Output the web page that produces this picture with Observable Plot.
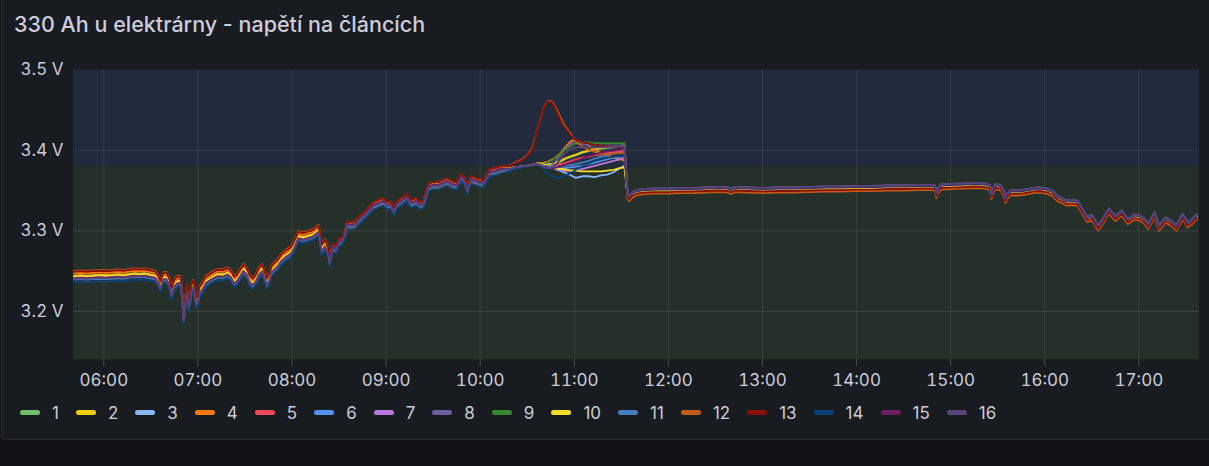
<!DOCTYPE html>
<html>
<head>
<meta charset="utf-8">
<script src="https://cdn.jsdelivr.net/npm/d3@7"></script>
<script src="https://cdn.jsdelivr.net/npm/@observablehq/plot@0.6"></script>
<style>
html, body { margin: 0; padding: 0; background: #111217; width: 1209px; height: 466px; overflow: hidden; }
#panel { position: absolute; left: 1px; top: -3px; width: 1212px; height: 443px; background: #181b1f; border: 1px solid #2a2d33; border-radius: 3px; box-sizing: border-box; }
#title { position: absolute; left: 14px; top: 13px; font-family: Inter, sans-serif; font-size: 21.5px; line-height: 22px; font-weight: 500; color: #ccccdc; white-space: nowrap; }
#chart { position: absolute; left: 0; top: 40px; }
#legend { position: absolute; left: 20px; top: 400px; height: 25px; display: flex; align-items: center; font-family: Inter, sans-serif; font-size: 17px; color: #ccccdc; }
.item { display: flex; align-items: center; margin-right: 17px; }
.sw { width: 20px; height: 5px; border-radius: 3px; margin-right: 12px; }
</style>
</head>
<body>
<div id="panel"></div>
<div id="title">330 Ah u elektrárny - napětí na článcích</div>
<div id="chart"></div>
<div id="legend"></div>
<script>
// ---- data ----
const cells = ["1","2","3","4","5","6","7","8","9","10","11","12","13","14","15","16"];
const colors = ["#73BF69","#F2CC0C","#8AB8FF","#FF780A","#F2495C","#5794F2","#B877D9","#705DA0","#37872D","#FADE2A","#447EBC","#C15C17","#890F02","#0A437C","#6D1F62","#584477"];

const xDomain = ["05:40:40", "17:38:40"];
const yDomain = [3.14, 3.5];
const hourTicks = ["06:00","07:00","08:00","09:00","10:00","11:00","12:00","13:00","14:00","15:00","16:00","17:00"];
const yTicks = [3.2, 3.3, 3.4, 3.5];
const thresholdLow = [3.14, 3.38];
const thresholdHigh = [3.38, 3.5];

// shared morning curve (bundle centre), V
const morningTimes = ["05:41","05:45","05:49","05:53","05:57","06:01","06:05","06:09","06:13","06:17","06:20","06:23","06:26","06:29","06:31","06:33","06:35","06:36","06:38","06:40","06:42","06:43","06:45","06:47","06:49","06:50","06:51","06:52","06:53","06:54","06:55","06:56","06:57","06:58","06:59","07:00","07:01","07:03","07:05","07:07","07:10","07:13","07:16","07:19","07:21","07:23","07:25","07:27","07:29","07:31","07:33","07:35","07:37","07:39","07:41","07:43","07:44","07:46","07:47","07:49","07:51","07:53","07:56","07:59","08:01","08:03","08:04","08:07","08:10","08:13","08:16","08:17","08:19","08:21","08:23","08:24","08:26","08:28","08:30","08:32","08:34","08:35","08:37","08:40","08:43","08:46","08:49","08:52","08:55","08:58","09:01","09:03","09:05","09:07","09:10","09:13","09:16","09:19","09:22","09:24","09:27","09:30","09:33","09:36","09:39","09:42","09:45","09:48","09:50","09:52","09:54","09:58","10:02","10:06","10:10","10:14"];
const morningBase = [3.2435,3.2441,3.2435,3.2441,3.2447,3.2441,3.2447,3.2453,3.2447,3.2460,3.2466,3.2460,3.2466,3.2453,3.2447,3.2435,3.2373,3.2311,3.2422,3.2422,3.2335,3.2224,3.2335,3.2373,3.2373,3.2186,3.1913,3.2137,3.2261,3.2075,3.2137,3.2286,3.2323,3.2224,3.2112,3.2137,3.2249,3.2298,3.2373,3.2398,3.2435,3.2460,3.2453,3.2478,3.2447,3.2373,3.2398,3.2460,3.2522,3.2485,3.2385,3.2348,3.2398,3.2485,3.2522,3.2410,3.2348,3.2435,3.2509,3.2547,3.2584,3.2646,3.2696,3.2733,3.2795,3.2882,3.2932,3.2913,3.2932,3.2950,3.2994,3.3006,3.2770,3.2832,3.2733,3.2609,3.2795,3.2770,3.2857,3.2882,3.2969,3.3081,3.3068,3.3081,3.3143,3.3193,3.3255,3.3317,3.3342,3.3367,3.3317,3.3329,3.3242,3.3329,3.3373,3.3422,3.3342,3.3367,3.3317,3.3342,3.3540,3.3571,3.3565,3.3590,3.3615,3.3578,3.3565,3.3671,3.3627,3.3503,3.3640,3.3615,3.3590,3.3727,3.3745,3.3770];
const lateStart = "08:24";

// per-cell offsets from the shared curve, V
const earlyOffset = [-0.001, 0.001, -0.002, 0.004, 0.000, -0.003, -0.002, -0.002, -0.001, 0.000, -0.004, 0.007, 0.006, -0.007, -0.002, -0.003];
const lateOffset = [0.000, 0.003, 0.001, -0.003, 0.001, -0.002, 0.000, -0.001, -0.002, 0.002, -0.002, 0.004, 0.004, -0.005, 0.001, -0.001];
const afternoonOffset = [0.001, -0.0005, 0.0015, -0.003, 0.000, 0.0015, 0.001, 0.002, 0.0015, -0.001, 0.001, -0.0045, -0.0025, 0.0005, 0.0015, 0.002];

// divergence around the top of charge, per cell, V
const peakTimes = ["10:18","10:22","10:26","10:30","10:33","10:35","10:37","10:39","10:41","10:43","10:45","10:47","10:49","10:51","10:53","10:55","10:58","11:01","11:05","11:09","11:13","11:17","11:21","11:25","11:29","11:32"];
const peak1 = [3.377,3.379,3.380,3.381,3.382,3.383,3.384,3.384,3.383,3.383,3.383,3.384,3.385,3.386,3.388,3.390,3.392,3.394,3.397,3.399,3.401,3.402,3.403,3.404,3.405,3.405];
const peak2 = [3.378,3.379,3.380,3.381,3.382,3.383,3.384,3.383,3.382,3.382,3.383,3.384,3.386,3.387,3.389,3.391,3.393,3.395,3.398,3.400,3.402,3.403,3.404,3.405,3.405,3.406];
const peak3 = [3.377,3.379,3.380,3.381,3.382,3.383,3.383,3.382,3.381,3.380,3.379,3.378,3.376,3.375,3.373,3.372,3.369,3.366,3.368,3.368,3.367,3.369,3.370,3.373,3.378,3.381];
const peak4 = [3.375,3.378,3.380,3.381,3.382,3.383,3.384,3.384,3.385,3.386,3.388,3.390,3.393,3.396,3.401,3.406,3.412,3.413,3.410,3.406,3.401,3.397,3.394,3.391,3.389,3.388];
const peak5 = [3.377,3.379,3.380,3.381,3.382,3.383,3.383,3.382,3.381,3.381,3.381,3.381,3.382,3.383,3.384,3.385,3.387,3.389,3.391,3.392,3.394,3.395,3.397,3.398,3.399,3.400];
const peak6 = [3.376,3.378,3.380,3.381,3.382,3.382,3.383,3.382,3.381,3.380,3.379,3.379,3.378,3.378,3.378,3.378,3.379,3.380,3.381,3.383,3.385,3.387,3.389,3.391,3.392,3.393];
const peak7 = [3.377,3.379,3.380,3.381,3.382,3.383,3.383,3.382,3.381,3.380,3.379,3.378,3.377,3.376,3.375,3.375,3.375,3.376,3.377,3.379,3.381,3.383,3.385,3.387,3.389,3.391];
const peak8 = [3.377,3.379,3.380,3.381,3.382,3.383,3.383,3.381,3.379,3.379,3.381,3.385,3.389,3.394,3.399,3.404,3.409,3.409,3.408,3.407,3.407,3.406,3.406,3.406,3.406,3.407];
const peak9 = [3.376,3.379,3.380,3.381,3.382,3.383,3.384,3.383,3.383,3.385,3.387,3.390,3.392,3.395,3.399,3.402,3.406,3.409,3.410,3.410,3.409,3.409,3.409,3.409,3.409,3.409];
const peak10 = [3.378,3.379,3.380,3.381,3.382,3.383,3.384,3.383,3.382,3.381,3.380,3.379,3.378,3.377,3.377,3.376,3.375,3.375,3.374,3.374,3.374,3.374,3.375,3.376,3.378,3.379];
const peak11 = [3.376,3.378,3.379,3.381,3.382,3.382,3.383,3.382,3.381,3.381,3.380,3.380,3.380,3.380,3.381,3.381,3.382,3.383,3.385,3.387,3.390,3.392,3.394,3.396,3.397,3.398];
const peak12 = [3.380,3.385,3.388,3.394,3.402,3.416,3.431,3.444,3.455,3.461,3.462,3.458,3.450,3.442,3.434,3.428,3.420,3.411,3.405,3.401,3.398,3.396,3.395,3.396,3.397,3.397];
const peak13 = [3.380,3.384,3.387,3.393,3.400,3.414,3.431,3.445,3.454,3.460,3.461,3.456,3.447,3.439,3.431,3.426,3.418,3.413,3.410,3.409,3.407,3.406,3.405,3.405,3.404,3.404];
const peak14 = [3.374,3.377,3.379,3.380,3.381,3.382,3.383,3.379,3.375,3.372,3.369,3.367,3.366,3.367,3.368,3.370,3.372,3.376,3.380,3.384,3.387,3.389,3.391,3.392,3.393,3.393];
const peak15 = [3.377,3.379,3.380,3.381,3.382,3.383,3.383,3.381,3.380,3.379,3.378,3.378,3.379,3.380,3.381,3.383,3.385,3.387,3.390,3.393,3.395,3.397,3.399,3.400,3.401,3.402];
const peak16 = [3.377,3.379,3.380,3.381,3.382,3.383,3.383,3.381,3.379,3.378,3.378,3.380,3.384,3.389,3.394,3.398,3.402,3.404,3.404,3.404,3.404,3.404,3.404,3.405,3.405,3.405];
const peaks = [peak1,peak2,peak3,peak4,peak5,peak6,peak7,peak8,peak9,peak10,peak11,peak12,peak13,peak14,peak15,peak16];

// shared afternoon curve, V
const afternoonTimes = ["11:34","11:35","11:37","11:40","11:45","11:52","12:00","12:08","12:16","12:24","12:32","12:38","12:40","12:42","12:50","13:00","13:10","13:20","13:30","13:40","13:50","14:00","14:10","14:20","14:30","14:40","14:48","14:50","14:51","14:52","14:54","15:00","15:08","15:16","15:22","15:25","15:26","15:27","15:29","15:32","15:34","15:35","15:36","15:38","15:43","15:48","15:53","15:57","16:01","16:05","16:08","16:11","16:14","16:18","16:21","16:24","16:27","16:30","16:34","16:37","16:41","16:45","16:49","16:53","16:57","17:00","17:03","17:06","17:10","17:13","17:17","17:20","17:24","17:28","17:31","17:34","17:37"];
const afternoonBase = [3.3441,3.3416,3.3460,3.3491,3.3503,3.3509,3.3509,3.3516,3.3516,3.3522,3.3528,3.3522,3.3503,3.3528,3.3522,3.3516,3.3522,3.3522,3.3528,3.3534,3.3534,3.3540,3.3540,3.3547,3.3547,3.3553,3.3553,3.3547,3.3453,3.3516,3.3559,3.3565,3.3571,3.3578,3.3571,3.3553,3.3441,3.3516,3.3565,3.3547,3.3466,3.3391,3.3441,3.3485,3.3485,3.3497,3.3516,3.3522,3.3509,3.3478,3.3416,3.3391,3.3360,3.3367,3.3354,3.3255,3.3155,3.3180,3.3050,3.3130,3.3261,3.3168,3.3236,3.3130,3.3186,3.3180,3.3143,3.3068,3.3211,3.3050,3.3149,3.3118,3.3050,3.3193,3.3087,3.3130,3.3193];

// ---- build ----
const toDate = s => { const [h, m, sec = 0] = s.split(":").map(Number); return new Date(Date.UTC(2024, 0, 1, h, m, sec)); };
const lateT = toDate(lateStart);
const rows = [];
cells.forEach((c, i) => {
  morningTimes.forEach((t, j) => {
    const d = toDate(t);
    rows.push({cell: c, t: d, v: morningBase[j] + (d < lateT ? earlyOffset[i] : lateOffset[i])});
  });
  peakTimes.forEach((t, j) => rows.push({cell: c, t: toDate(t), v: peaks[i][j]}));
  afternoonTimes.forEach((t, j) => rows.push({cell: c, t: toDate(t), v: afternoonBase[j] + afternoonOffset[i]}));
});
const xd = xDomain.map(toDate);
const bands = thresholdLow.map((lo, i) => ({lo, hi: thresholdHigh[i]}));
const ticksX = hourTicks.map(toDate);

const chart = Plot.plot({
  width: 1209,
  height: 360,
  marginTop: 29.5,
  marginBottom: 40.7,
  marginLeft: 73,
  marginRight: 10,
  style: {background: "transparent", color: "#ccccdc", fontFamily: "Inter, sans-serif", fontSize: "17px", overflow: "visible"},
  x: {type: "utc", domain: xd, label: null},
  y: {domain: yDomain, label: null},
  color: {domain: cells, range: colors},
  marks: [
    Plot.rect([bands[0]], {x1: () => xd[0], x2: () => xd[1], y1: "lo", y2: "hi", fill: "#26302b"}),
    Plot.rect([bands[1]], {x1: () => xd[0], x2: () => xd[1], y1: "lo", y2: "hi", fill: "#222b3d"}),
    Plot.gridX(ticksX, {stroke: "#ccccdc", strokeOpacity: 0.1, strokeWidth: 1}),
    Plot.gridY(yTicks.slice(0, 3), {stroke: "#ccccdc", strokeOpacity: 0.1, strokeWidth: 1}),
    Plot.axisX(ticksX, {tickFormat: d3.utcFormat("%H:%M"), tickSize: 6.5, tickPadding: 8, stroke: "#4a4d55", fill: "#ccccdc", fontSize: 17, label: null}),
    Plot.axisY(yTicks, {tickFormat: d => d.toFixed(1) + " V", tickSize: 0, tickPadding: 10, fill: "#ccccdc", fontSize: 17, label: null}),
    Plot.line(rows, {x: "t", y: "v", z: "cell", stroke: "cell", strokeWidth: 1.8, strokeLinejoin: "round"})
  ]
});
document.getElementById("chart").appendChild(chart);

const legend = document.getElementById("legend");
cells.forEach((c, i) => {
  const item = document.createElement("div");
  item.className = "item";
  const sw = document.createElement("span");
  sw.className = "sw";
  sw.style.background = colors[i];
  const lab = document.createElement("span");
  lab.textContent = c;
  item.appendChild(sw);
  item.appendChild(lab);
  legend.appendChild(item);
});
</script>
</body>
</html>
